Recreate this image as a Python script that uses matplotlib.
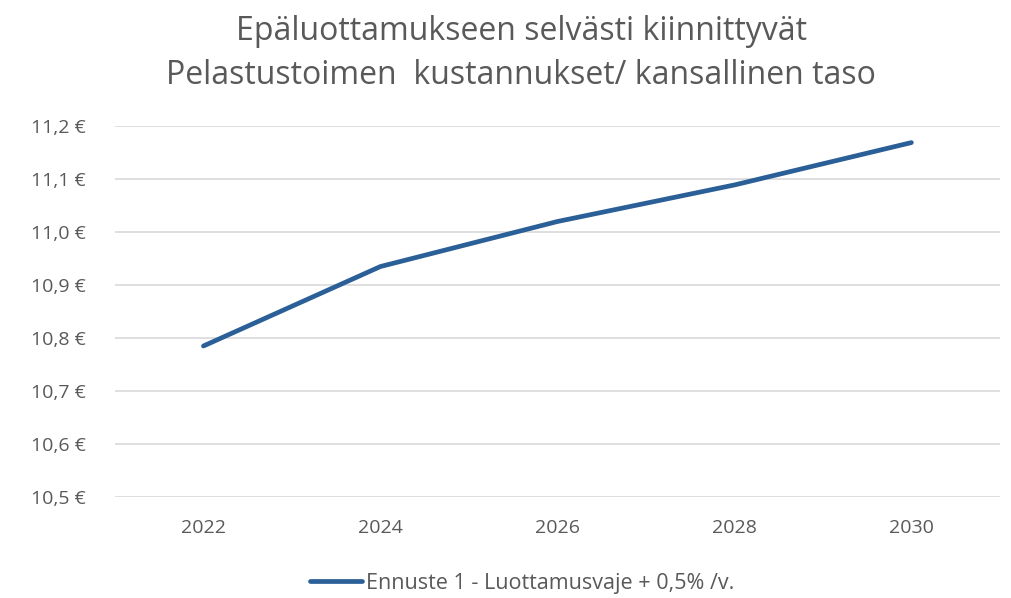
import matplotlib.pyplot as plt
from matplotlib.ticker import FuncFormatter

years = ['2022', '2024', '2026', '2028', '2030']
costs = [10.785, 10.935, 11.02, 11.089, 11.169]
yticks = [10.5, 10.6, 10.7, 10.8, 10.9, 11.0, 11.1, 11.2]

title = 'Epäluottamukseen selvästi kiinnittyvät\nPelastustoimen  kustannukset/ kansallinen taso'
series_name = 'Ennuste 1 - Luottamusvaje + 0,5% /v.'

grey = '#595959'
plt.rcParams['font.family'] = ['Open Sans', 'DejaVu Sans']

fig = plt.figure(figsize=(10.12, 5.98), dpi=100)
ax = fig.add_axes([0.1136, 0.169, 0.8744, 0.62])

x = list(range(len(years)))
ax.plot(x, costs, color='#2B5F97', lw=3.4, solid_capstyle='round',
        solid_joinstyle='round', label=series_name)

ax.set_xlim(-0.5, len(years) - 0.5)
ax.set_ylim(10.5, 11.2)
ax.set_xticks(x)
ax.set_xticklabels(years)
ax.set_yticks(yticks)
ax.yaxis.set_major_formatter(FuncFormatter(lambda v, p: f'{v:.1f}'.replace('.', ',') + ' €'))
ax.tick_params(length=0, labelsize=14, colors=grey)
ax.tick_params(axis='y', pad=21)
ax.tick_params(axis='x', pad=16)
ax.grid(axis='y', color='#D9D9D9', lw=1.2)
ax.set_axisbelow(True)
for s in ax.spines.values():
    s.set_visible(False)

fig.suptitle(title, x=0.515, y=0.975, fontsize=23, color=grey, linespacing=1.45)

leg = fig.legend(loc='lower center', bbox_to_anchor=(0.516, -0.025), frameon=False,
                 fontsize=15.5, handlelength=2.4, handletextpad=0.2)
for t in leg.get_texts():
    t.set_color(grey)

fig.savefig('out.png', dpi=100)
